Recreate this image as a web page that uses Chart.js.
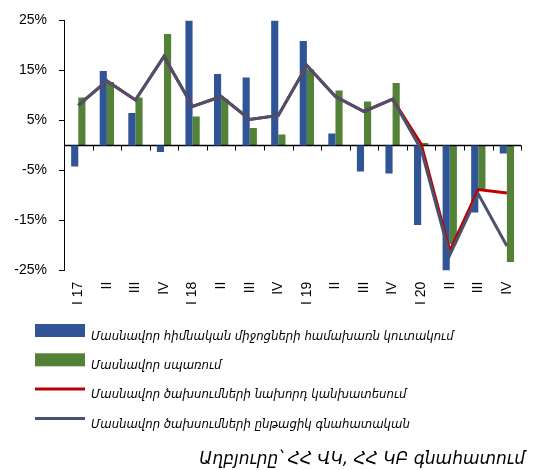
<!DOCTYPE html>
<html>
<head>
<meta charset="utf-8">
<script src="https://cdn.jsdelivr.net/npm/chart.js@4.4.0/dist/chart.umd.min.js"></script>
<style>
  html, body { margin: 0; padding: 0; background: #ffffff; }
  #wrap { width: 535px; height: 470px; position: relative; }
</style>
</head>
<body>
<div id="wrap"><canvas id="chart"></canvas></div>
<script>
// Quarters 2017–2020
const quarters = ['I 17', 'II', 'III', 'IV', 'I 18', 'II', 'III', 'IV',
                  'I 19', 'II', 'III', 'IV', 'I 20', 'II', 'III', 'IV'];

// Private gross fixed capital formation, y/y %
const privateInvestment = [-4.2, 14.9, 6.5, -1.3, 25.0, 14.3, 13.6, 25.0,
                           20.9, 2.4, -5.2, -5.6, -15.9, -25.0, -13.4, -1.6];

// Private consumption, y/y %
const privateConsumption = [9.6, 12.7, 9.6, 22.3, 5.8, 9.3, 3.5, 2.2,
                            15.2, 11.0, 8.8, 12.5, 0.5, -19.7, -8.7, -23.3];

// Private expenditure: previous forecast, y/y %
const previousForecast = [8.0, 12.9, 9.1, 17.8, 7.8, 9.8, 5.2, 6.0,
                          16.0, 9.8, 6.8, 9.25, 0.3, -21.1, -8.8, -9.5];

// Private expenditure: current estimate, y/y %
const currentEstimate = [8.0, 12.9, 9.1, 17.8, 7.8, 9.8, 5.2, 6.0,
                         16.0, 9.8, 6.8, 9.25, -0.8, -21.9, -9.7, -20.1];

// Value axis range and step, %
const yMin = -25, yMax = 25, yStep = 10;

const seriesNames = [
  'Մասնավոր հիմնական միջոցների համախառն կուտակում',
  'Մասնավոր սպառում',
  'Մասնավոր ծախսումների նախորդ կանխատեսում',
  'Մասնավոր ծախսումների ընթացիկ գնահատական'
];
const sourceNote = 'Աղբյուրը՝ ՀՀ ՎԿ, ՀՀ ԿԲ գնահատում';

const BLUE = '#2F5597';
const GREEN = '#538135';
const RED = '#C00000';
const SLATE = '#4B5270';

const LABEL_FONT = 'Liberation Sans, Arial, sans-serif';
const ARM_FONT = 'DejaVu Sans, sans-serif';
const ARM_FONT_NARROW = '"DejaVu Sans Condensed", "DejaVu Sans", sans-serif';

// Horizontal axis line at zero with tick marks between quarters
const zeroAxis = {
  id: 'zeroAxis',
  beforeDatasetDraw(chart, args) {
    if (args.index !== 2) return;
    const { ctx, chartArea, scales } = chart;
    const x = scales.x, y = scales.y;
    const y0 = Math.round(y.getPixelForValue(0)) + 0.5;
    const n = x.ticks.length;
    const step = n > 1 ? x.getPixelForTick(1) - x.getPixelForTick(0) : chartArea.width;
    ctx.save();
    ctx.strokeStyle = '#000000';
    ctx.lineWidth = 1.5;
    ctx.beginPath();
    ctx.moveTo(chartArea.left, y0);
    ctx.lineTo(chartArea.right, y0);
    ctx.stroke();
    ctx.lineWidth = 1;
    ctx.beginPath();
    for (let i = 0; i <= n; i++) {
      const px = Math.round(x.getPixelForTick(0) - step / 2 + i * step) + 0.5;
      ctx.moveTo(px, y0);
      ctx.lineTo(px, y0 + 5);
    }
    ctx.stroke();
    ctx.restore();
  }
};

// Stacked legend rows below the axis labels
const stackedLegend = {
  id: 'stackedLegend',
  afterDraw(chart) {
    const { ctx } = chart;
    const boxLeft = 35, boxW = 50, boxH = 13, textX = 91;
    const firstRow = 330.5, rowGap = 29.3;
    ctx.save();
    ctx.font = 'italic 13px ' + ARM_FONT_NARROW;
    ctx.textBaseline = 'middle';
    ctx.textAlign = 'left';
    const order = [2, 3, 1, 0]; // dataset index for each row
    order.forEach((di, row) => {
      const ds = chart.data.datasets[di];
      const cy = firstRow + row * rowGap;
      if (ds.type === 'bar') {
        ctx.fillStyle = ds.backgroundColor;
        ctx.fillRect(boxLeft, cy - boxH / 2, boxW, boxH);
      } else {
        ctx.strokeStyle = ds.borderColor;
        ctx.lineWidth = 3;
        ctx.beginPath();
        ctx.moveTo(boxLeft, cy);
        ctx.lineTo(boxLeft + boxW, cy);
        ctx.stroke();
      }
      ctx.fillStyle = '#000000';
      ctx.fillText(ds.label, textX, cy + 6);
    });
    ctx.restore();
  }
};

new Chart(document.getElementById('chart'), {
  data: {
    labels: quarters,
    datasets: [
      {
        type: 'line', label: seriesNames[3], data: currentEstimate,
        borderColor: SLATE, borderWidth: 3, pointRadius: 0, tension: 0, fill: false, order: 0
      },
      {
        type: 'line', label: seriesNames[2], data: previousForecast,
        borderColor: RED, borderWidth: 3, pointRadius: 0, tension: 0, fill: false, order: 1
      },
      {
        type: 'bar', label: seriesNames[0], data: privateInvestment,
        backgroundColor: BLUE, borderWidth: 0, order: 2,
        categoryPercentage: 0.5, barPercentage: 1.0
      },
      {
        type: 'bar', label: seriesNames[1], data: privateConsumption,
        backgroundColor: GREEN, borderWidth: 0, order: 3,
        categoryPercentage: 0.5, barPercentage: 1.0
      }
    ]
  },
  options: {
    responsive: true,
    maintainAspectRatio: false,
    animation: false,
    layout: { padding: { top: 18, right: 10, left: 0, bottom: 0 } },
    scales: {
      x: {
        offset: true,
        grid: { display: false, drawTicks: false },
        border: { display: false },
        ticks: {
          autoSkip: false, minRotation: 90, maxRotation: 90, padding: 11,
          color: '#000000', font: { family: LABEL_FONT, size: 14 }
        },
        afterFit(scale) { scale.height = 179; }
      },
      y: {
        min: yMin, max: yMax,
        grid: { drawOnChartArea: false, drawTicks: true, tickLength: 5, color: '#000000' },
        border: { display: true, color: '#000000', width: 1 },
        ticks: {
          stepSize: yStep, padding: 12, color: '#000000',
          font: { family: LABEL_FONT, size: 14 },
          callback: v => v + '%'
        },
        afterFit(scale) { scale.width = 64; }
      }
    },
    plugins: {
      legend: { display: false },
      tooltip: { enabled: false },
      title: {
        display: true, text: sourceNote, position: 'bottom', align: 'end',
        color: '#000000', padding: 0,
        font: { family: ARM_FONT, style: 'italic', size: 17, weight: 'normal' }
      }
    }
  },
  plugins: [zeroAxis, stackedLegend]
});
</script>
</body>
</html>
